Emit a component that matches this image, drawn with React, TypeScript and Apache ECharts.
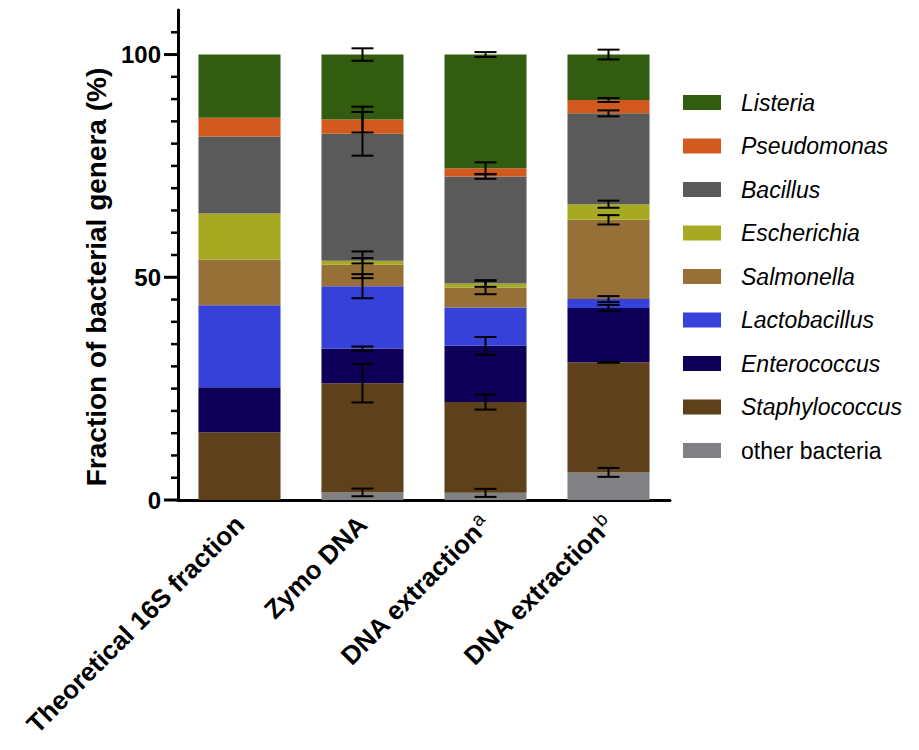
import React, { useEffect, useRef } from "react";
import * as echarts from "echarts";

const categories = ["Theoretical 16S fraction", "Zymo DNA", "DNA extraction^a", "DNA extraction^b"];

const seriesNames = [
  "other bacteria",
  "Staphylococcus",
  "Enterococcus",
  "Lactobacillus",
  "Salmonella",
  "Escherichia",
  "Bacillus",
  "Pseudomonas",
  "Listeria",
];

const otherBacteria = [0, 1.7, 1.6, 6.2];
const staphylococcus = [15.2, 24.5, 20.4, 24.7];
const enterococcus = [10.1, 7.8, 12.6, 12.2];
const lactobacillus = [18.4, 14.0, 8.6, 2.0];
const salmonella = [10.3, 4.8, 4.5, 17.8];
const escherichia = [10.3, 0.9, 0.9, 3.5];
const bacillus = [17.3, 28.5, 24.0, 20.4];
const pseudomonas = [4.2, 3.2, 1.9, 3.0];
const listeria = [14.2, 14.6, 25.5, 10.2];

const errOther = [null, 0.86, 0.9, 1.0];
const errStaph = [null, 4.3, 1.7, 0.1];
const errEntero = [null, 0.45, 2.0, 0.7];
const errLacto = [null, 2.7, null, 0.67];
const errSalmonella = [null, 3.0, 1.5, 1.05];
const errEscherichia = [null, 0.6, 0.75, 0.8];
const errBacillus = [null, 4.9, 0.5, 0.67];
const errPseudomonas = [null, 2.9, 1.3, 0.45];
const errListeria = [null, 1.4, 0.55, 1.1];

const colors = ["#808085", "#5E411A", "#0E0058", "#3541D8", "#967036", "#A6AA22", "#5A5A5A", "#D25A1E", "#325C10"];

const yMajorTicks = [0, 50, 100];
const yMinorTicks = [5, 10, 15, 20, 25, 30, 35, 40, 45, 55, 60, 65, 70, 75, 80, 85, 90, 95, 105];

const legendOrder = ["Listeria", "Pseudomonas", "Bacillus", "Escherichia", "Salmonella", "Lactobacillus", "Enterococcus", "Staphylococcus", "other bacteria"];

const FONT = "'Liberation Sans', Arial, Helvetica, sans-serif";

export default function App() {
  const ref = useRef<HTMLDivElement>(null);
  useEffect(() => {
    document.body.style.margin = "0";
    if (!ref.current) return;
    const chart = echarts.init(ref.current, undefined, { renderer: "svg" });
    const values = [otherBacteria, staphylococcus, enterococcus, lactobacillus, salmonella, escherichia, bacillus, pseudomonas, listeria];
    const errs = [errOther, errStaph, errEntero, errLacto, errSalmonella, errEscherichia, errBacillus, errPseudomonas, errListeria];

    const errData: number[][] = [];
    const cum = [0, 0, 0, 0];
    values.forEach((arr, si) => {
      arr.forEach((v, ci) => {
        cum[ci] += v;
        const e = errs[si][ci];
        if (e !== null && e !== undefined) errData.push([ci, cum[ci], e as number]);
      });
    });

    const tickData = [
      ...yMajorTicks.map((v) => [0, v, 14, 3]),
      ...yMinorTicks.map((v) => [0, v, 7, 2.5]),
    ];

    const barSeries = seriesNames.map((name, i) => ({
      name,
      type: "bar",
      stack: "total",
      barWidth: "66.7%",
      itemStyle: { color: colors[i] },
      data: values[i],
      yAxisIndex: 0,
    }));

    const option: any = {
      animation: false,
      textStyle: { fontFamily: FONT },
      grid: { left: 178, right: 249, top: 10, bottom: 250, containLabel: false },
      legend: {
        orient: "vertical",
        left: 678,
        top: 86,
        itemWidth: 38,
        itemHeight: 15,
        itemGap: 20.5,
        icon: "rect",
        textStyle: { fontSize: 23, color: "#000", fontFamily: FONT, lineHeight: 20, padding: [0, 0, 0, 15] },
        data: legendOrder.map((n) => ({
          name: n,
          textStyle: { fontStyle: n === "other bacteria" ? "normal" : "italic" },
        })),
      },
      xAxis: {
        type: "category",
        data: categories,
        axisLine: { lineStyle: { color: "#000", width: 3 } },
        axisTick: { alignWithLabel: true, length: 14, lineStyle: { color: "#000", width: 3 } },
        axisLabel: {
          rotate: 45,
          margin: 20,
          interval: 0,
          color: "#000",
          fontSize: 26,
          fontWeight: "bold",
          fontFamily: FONT,
          formatter: (v: string) => {
            const parts = v.split("^");
            if (parts.length > 1) return `{b|${parts[0]}}{s|${parts[1]}}`;
            return `{b|${v}}`;
          },
          rich: {
            b: { fontSize: 26, fontWeight: "bold", fontStyle: "normal", color: "#000", fontFamily: FONT },
            s: { fontSize: 19, fontWeight: "normal", fontStyle: "normal", color: "#000", fontFamily: FONT, verticalAlign: "top", padding: [0, 0, 12, 1] },
          },
        },
      },
      yAxis: [
        {
          type: "value",
          min: 0,
          max: 110,
          position: "left",
          axisLine: { show: true, lineStyle: { color: "#000", width: 3 } },
          axisTick: { show: false },
          axisLabel: { show: false },
          splitLine: { show: false },
        },
        {
          type: "value",
          min: 0,
          max: 110,
          interval: 50,
          position: "left",
          axisLine: { show: false },
          axisTick: { show: false },
          axisLabel: {
            showMaxLabel: false,
            fontSize: 24,
            fontWeight: "bold",
            color: "#000",
            margin: 17,
            fontFamily: FONT,
          },
          splitLine: { show: false },
          name: "Fraction of bacterial genera (%)",
          nameLocation: "middle",
          nameGap: 68,
          nameTextStyle: { fontSize: 28, fontWeight: "bold", color: "#000", fontFamily: FONT, padding: [0, 44, 0, 0] },
        },
      ],
      series: [
        ...barSeries,
        {
          type: "custom",
          name: "yticks",
          yAxisIndex: 0,
          clip: false,
          silent: true,
          encode: { x: 0, y: 1 },
          data: tickData,
          renderItem: (params: any, api: any) => {
            const y = api.coord([0, api.value(1)])[1];
            const x = params.coordSys.x;
            const len = api.value(2);
            return {
              type: "line",
              shape: { x1: x - len, y1: y, x2: x, y2: y },
              style: { stroke: "#000", lineWidth: api.value(3) },
            };
          },
        },
        {
          type: "custom",
          name: "errors",
          yAxisIndex: 0,
          z: 10,
          clip: false,
          encode: { x: 0, y: 1 },
          data: errData,
          renderItem: (params: any, api: any) => {
            const ci = api.value(0);
            const top = api.value(1);
            const e = api.value(2);
            const hi = api.coord([ci, top + e]);
            const lo = api.coord([ci, top - e]);
            const hw = 11;
            const st = { stroke: "#000", lineWidth: 2 };
            return {
              type: "group",
              children: [
                { type: "line", shape: { x1: hi[0], y1: hi[1], x2: lo[0], y2: lo[1] }, style: st },
                { type: "line", shape: { x1: hi[0] - hw, y1: hi[1], x2: hi[0] + hw, y2: hi[1] }, style: st },
                { type: "line", shape: { x1: lo[0] - hw, y1: lo[1], x2: lo[0] + hw, y2: lo[1] }, style: st },
              ],
            };
          },
        },
      ],
    };
    chart.setOption(option);
    return () => chart.dispose();
  }, []);
  return <div ref={ref} style={{ width: 919, height: 750 }} />;
}
